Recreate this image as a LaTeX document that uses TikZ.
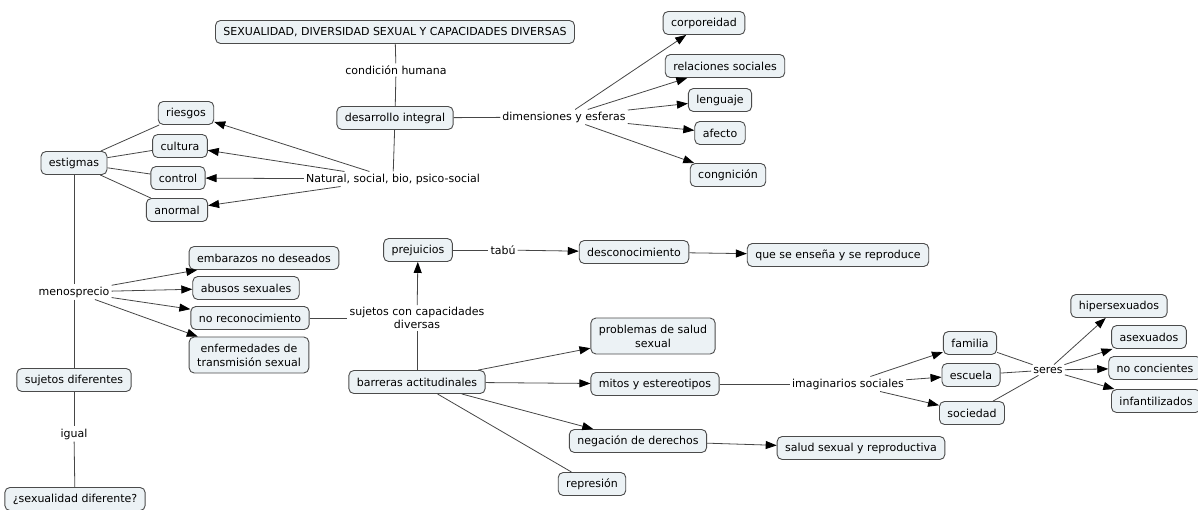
\documentclass[tikz,border=0pt]{standalone}
\usepackage{fontspec}
\setmainfont{DejaVu Sans}
\usetikzlibrary{arrows.meta}
\definecolor{boxfill}{RGB}{236,242,245}
\definecolor{boxdraw}{RGB}{75,75,75}
\definecolor{linec}{RGB}{70,70,70}
\begin{document}
\begin{tikzpicture}[x=1pt,y=-1pt,
  box/.style={draw=boxdraw, fill=boxfill, rounded corners=5pt, line width=0.9pt,
    inner xsep=8pt, inner ysep=2pt, minimum height=23pt,
    font=\fontsize{11}{13}\selectfont, align=center},
  box2/.style={box, minimum height=36pt, font=\fontsize{11}{14}\selectfont},
  lbl/.style={inner sep=2pt, font=\fontsize{11}{13}\selectfont, align=center},
  con/.style={draw=linec, line width=0.8pt},
  arr/.style={con, -{Triangle[length=11pt,width=8pt,color=black]}}]
\useasboundingbox (0,0) rectangle (1198,510);
% top
\node[box] (title) at (395,32) {SEXUALIDAD, DIVERSIDAD SEXUAL Y CAPACIDADES DIVERSAS};
\node[lbl] (cond) at (396,70) {condición humana};
\node[box] (des) at (395,118) {desarrollo integral};
\node[lbl] (nat) at (393,179) {Natural, social, bio, psico-social};
\node[lbl] (dim) at (564,117) {dimensiones y esferas};
\node[box] (corp) at (704,23) {corporeidad};
\node[box] (rel) at (725,66) {relaciones sociales};
\node[box] (len) at (720,100) {lenguaje};
\node[box] (afe) at (720,133) {afecto};
\node[box] (cong) at (728,175) {congnición};
% left
\node[box] (est) at (74,163) {estigmas};
\node[box] (rie) at (186,113) {riesgos};
\node[box] (cul) at (180,146) {cultura};
\node[box] (ctl) at (178,178) {control};
\node[box] (ano) at (177,210) {anormal};
\node[lbl] (meno) at (74,292) {menosprecio};
\node[box] (emb) at (264,258) {embarazos no deseados};
\node[box] (abu) at (246,288) {abusos sexuales};
\node[box] (norec) at (250,318) {no reconocimiento};
\node[box2] (enf) at (249,355) {enfermedades de\\transmisión sexual};
\node[box] (sdif) at (74,380) {sujetos diferentes};
\node[lbl] (igual) at (74,434) {igual};
\node[box] (sexd) at (75,499) {¿sexualidad diferente?};
% middle
\node[lbl] (suj) at (417,318) {sujetos con capacidades\\diversas};
\node[box] (pre) at (418,250) {prejuicios};
\node[lbl] (tabu) at (503,250) {tabú};
\node[box] (desc) at (634,252) {desconocimiento};
\node[box] (que) at (838,255) {que se enseña y se reproduce};
\node[box] (bar) at (417,382) {barreras actitudinales};
\node[box2] (prob) at (653,336) {problemas de salud\\sexual};
\node[box] (mit) at (655,384) {mitos y estereotipos};
\node[box] (neg) at (638,441) {negación de derechos};
\node[box] (rep) at (592,484) {represión};
\node[box] (sal) at (861,448) {salud sexual y reproductiva};
% right
\node[lbl] (ima) at (848,384) {imaginarios sociales};
\node[box] (fam) at (970,343) {familia};
\node[box] (esc) at (971,375) {escuela};
\node[box] (soc) at (972,413) {sociedad};
\node[lbl] (ser) at (1048,370) {seres};
\node[box] (hip) at (1119,306) {hipersexuados};
\node[box] (ase) at (1149,337) {asexuados};
\node[box] (noc) at (1155,368) {no concientes};
\node[box] (inf) at (1156,401) {infantilizados};
% connectors
\draw[con] (title) -- (cond);
\draw[con] (cond) -- (des);
\draw[con] (des) -- (nat);
\draw[con] (des) -- (dim);
\draw[arr] (dim) -- (corp);
\draw[arr] (dim) -- (rel);
\draw[arr] (dim) -- (len);
\draw[arr] (dim) -- (afe);
\draw[arr] (dim) -- (cong);
\draw[arr] (nat) -- (rie);
\draw[arr] (nat) -- (cul);
\draw[arr] (nat) -- (ctl);
\draw[arr] (nat) -- (ano);
\draw[con] (est) -- (rie);
\draw[con] (est) -- (cul);
\draw[con] (est) -- (ctl);
\draw[con] (est) -- (ano);
\draw[con] (est) -- (meno);
\draw[con] (meno) -- (sdif);
\draw[arr] (meno) -- (emb);
\draw[arr] (meno) -- (abu);
\draw[arr] (meno) -- (norec);
\draw[arr] (meno) -- (enf);
\draw[con] (sdif) -- (igual);
\draw[con] (igual) -- (sexd);
\draw[con] (norec) -- (suj);
\draw[con] (bar) -- (suj);
\draw[arr] (suj) -- (pre);
\draw[con] (pre) -- (tabu);
\draw[arr] (tabu) -- (desc);
\draw[arr] (desc) -- (que);
\draw[arr] (bar) -- (prob);
\draw[arr] (bar) -- (mit);
\draw[arr] (bar) -- (neg);
\draw[con] (bar) -- (rep);
\draw[arr] (neg) -- (sal);
\draw[con] (mit) -- (ima);
\draw[arr] (ima) -- (fam);
\draw[arr] (ima) -- (esc);
\draw[arr] (ima) -- (soc);
\draw[con] (fam) -- (ser);
\draw[con] (esc) -- (ser);
\draw[con] (soc) -- (ser);
\draw[arr] (ser) -- (hip);
\draw[arr] (ser) -- (ase);
\draw[arr] (ser) -- (noc);
\draw[arr] (ser) -- (inf);
\end{tikzpicture}
\end{document}
